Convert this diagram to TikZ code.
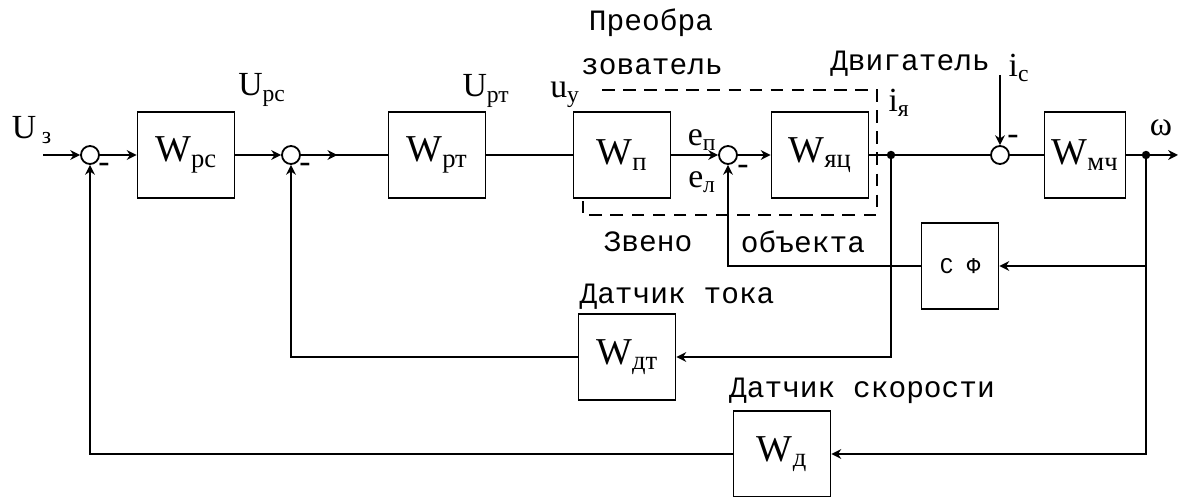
\documentclass[tikz,border=0pt]{standalone}
\usepackage{fontspec}
\setmainfont{Liberation Serif}
\newfontfamily\labfont{Liberation Mono}
\usetikzlibrary{arrows.meta}
\usetikzlibrary{decorations.markings}

\begin{document}
\begin{tikzpicture}[x=0.025cm, y=-0.025cm, line width=1.3pt,
			>={Stealth[length=7pt, width=7pt]},
			blk/.style={draw, minimum width=2.425cm, minimum height=2.15cm,
							font=\fontsize{27}{28}\selectfont, inner sep=0pt},
			summ/.style={draw, circle, minimum size=0.45cm, inner sep=0pt},
			lab/.style={font=\fontsize{21}{24}\selectfont\labfont, inner sep=0pt},
			sig/.style={font=\fontsize{24}{26}\selectfont, inner sep=0pt},
			midarrow/.style={decoration={markings,
							mark=at position 0.42 with {\arrow{>}}}, postaction={decorate}}]

		\useasboundingbox (0,0) rectangle (1180,497);

		% forward path
		\coordinate (in) at (43,155);
		\node[summ] (s1) at (90,155) {};
		\node[blk] (wrc) at (186,155) {W\textsubscript{рс}};
		\node[summ] (s2) at (291,155) {};
		\node[blk] (wrt) at (437,155) {W\textsubscript{рт}};
		\node[blk] (wp) at (622,155) {W\textsubscript{п}};
		\node[summ] (s3) at (728,155) {};
		\node[blk] (wyac) at (820,155) {W\textsubscript{яц}};
		\coordinate (j1) at (891,155);
		\node[summ] (s4) at (1000,155) {};
		\node[blk, minimum width=2.025cm] (wmch) at (1085,155) {W\textsubscript{мч}};
		\coordinate (j2) at (1146,155);
		\coordinate (out) at (1178,155);
		\coordinate (ic) at (1000,75);

		% feedback blocks
		\node[blk, minimum width=1.925cm, font=\fontsize{16}{18}\selectfont\labfont] (sf) at (960,266) {С Ф};
		\node[blk] (wdt) at (627,357) {W\textsubscript{дт}};
		\node[blk] (wd) at (782,454) {W\textsubscript{д}};

		\draw[->] (in) -- (s1);
		\draw[->] (s1) -- (wrc);
		\draw[->] (wrc) -- (s2);
		\draw[midarrow] (s2) -- (wrt);
		\draw (wrt) -- (wp);
		\draw[->] (wp) -- (s3);
		\draw[->] (s3) -- (wyac);
		\draw (wyac) -- (j1) -- (s4);
		\draw (s4) -- (wmch);
		\draw[->] (wmch) -- (out);
		\draw[->] (ic) -- (s4);

		\draw[->] (j2) |- (sf);
		\draw[->] (sf) -| (s3);
		\draw[->] (j1) |- (wdt);
		\draw[->] (wdt) -| (s2);
		\draw[->] (j2) |- (wd);
		\draw[->] (wd) -| (s1);
		\fill (j1) circle (3pt);
		\fill (j2) circle (3pt);

		% converter-object link
		\draw[dashed, dash pattern=on 9pt off 6pt]
			(602,90) -- (877,90) -- (877,215) -- (583,215) -- (583,201);

		% signals
		\node[sig] (lux) at (32,130) {U\,\textsubscript{з}};
		\node[sig] (lurc) at (262,90) {U\textsubscript{рс}};
		\node[sig] (lurt) at (486,91) {U\textsubscript{рт}};
		\node[sig] (luy) at (565,95) {u\textsubscript{у}};
		\node[sig] (lep) at (702,140) {e\textsubscript{п}};
		\node[sig] (lel) at (702,182) {e\textsubscript{л}};
		\node[sig] (liya) at (899,103) {i\textsubscript{я}};
		\node[sig] (lic) at (1019,68) {i\textsubscript{c}};
		\node[sig] (lom) at (1161,128) {ω};
		\node[sig] at (104,168) {-};
		\node[sig] at (305,168) {-};
		\node[sig] at (743,170) {-};
		\node[sig] at (1013,140) {-};

		% captions
		\node[lab] (lpre) at (651,23) {Преобра};
		\node[lab] (lzov) at (652,67) {зователь};
		\node[lab] (ldv) at (910,64) {Двигатель};
		\node[lab] (lzv) at (648,242) {Звено};
		\node[lab] (lob) at (803,242) {объекта};
		\node[lab] (ldt) at (677,297) {Датчик тока};
		\node[lab] (lds) at (862,391) {Датчик скорости};
	\end{tikzpicture}
\end{document}
